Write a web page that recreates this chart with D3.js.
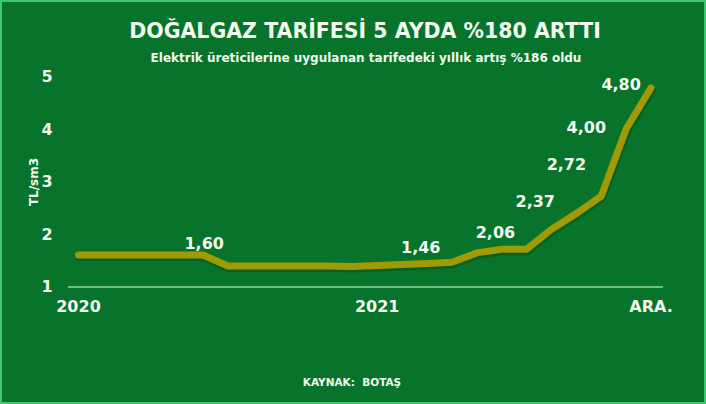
<!DOCTYPE html>
<html>
<head>
<meta charset="utf-8">
<script src="https://cdn.jsdelivr.net/npm/d3@7"></script>
<style>
html,body{margin:0;padding:0;background:#08732a;}
svg{display:block;}
text{font-family:"DejaVu Sans",Verdana,sans-serif;font-weight:bold;fill:#f2fbef;}
</style>
</head>
<body>
<svg id="chart" width="706" height="404"></svg>
<script>
// Months Jan 2020 .. Dec 2021 (index 0..23)
const months = d3.range(24);
const values = [1.60,1.60,1.60,1.60,1.60,1.60,1.39,1.39,1.39,1.39,1.39,1.38,
                1.40,1.42,1.44,1.46,1.64,1.71,1.71,2.09,2.39,2.72,4.00,4.78];
const xTickIdx = [0, 12, 23];
const xTickLabels = ["2020", "2021", "ARA."];
const yTicks = [1, 2, 3, 4, 5];
// value labels: text, month position, value position
const labelText = ["1,60", "1,46", "2,06", "2,37", "2,72", "4,00", "4,80"];
const labelIdx  = [5.05, 13.75, 16.75, 18.35, 19.6, 20.4, 21.8];
const labelVal  = [1.83, 1.75, 2.03, 2.63, 3.33, 4.03, 4.86];

const title = "DOĞALGAZ TARİFESİ 5 AYDA %180 ARTTI";
const subtitle = "Elektrik üreticilerine uygulanan tarifedeki yıllık artış %186 oldu";
const yTitle = "TL/sm3";
const source = "KAYNAK:  BOTAŞ";

const W = 706, H = 404;
const svg = d3.select("#chart");

svg.append("rect").attr("x",0).attr("y",0).attr("width",W).attr("height",H).attr("fill","#08732a");
svg.append("rect").attr("x",1).attr("y",1).attr("width",W-2).attr("height",H-2)
  .attr("fill","none").attr("stroke","#3fc574").attr("stroke-width",2);

const x = d3.scaleLinear().domain([0, 23]).range([78.5, 651]);
const y = d3.scaleLinear().domain([1, 5]).range([286.5, 76.5]);

// title
svg.append("text").attr("x",365).attr("y",38).attr("text-anchor","middle")
  .style("font-size","20.5px").text(title);
svg.append("text").attr("x",366).attr("y",62).attr("text-anchor","middle")
  .style("font-size","12px").text(subtitle);

// y ticks
svg.append("g").selectAll("text").data(yTicks).join("text")
  .attr("x",47).attr("y",d=>y(d)).attr("dy","0.36em").attr("text-anchor","middle")
  .style("font-size","16px").text(d=>d);

svg.append("text").attr("transform","translate(38,182) rotate(-90)")
  .attr("text-anchor","middle").style("font-size","12px").text(yTitle);

// baseline axis
svg.append("line").attr("x1",68).attr("x2",663).attr("y1",y(1)+0.5).attr("y2",y(1)+0.5)
  .attr("stroke","#8fd6a8").attr("stroke-width",1.5);

// x labels
svg.append("g").selectAll("text").data(xTickIdx).join("text")
  .attr("x",d=>x(d)).attr("y",312).attr("text-anchor","middle")
  .style("font-size","16px").text((d,i)=>xTickLabels[i]);

// line
const line = d3.line().x(d=>x(d)).y(d=>y(values[d]));
svg.append("path").datum(months).attr("d",line)
  .attr("transform","translate(1,2)")
  .attr("fill","none").attr("stroke","#075a20").attr("stroke-width",8)
  .attr("stroke-linejoin","round").attr("stroke-linecap","round").attr("opacity",0.8);
svg.append("path").datum(months).attr("d",line)
  .attr("fill","none").attr("stroke","#a09a05").attr("stroke-width",7)
  .attr("stroke-linejoin","miter").attr("stroke-linecap","round");

// value labels
svg.append("g").selectAll("text").data(labelText).join("text")
  .attr("x",(d,i)=>x(labelIdx[i])).attr("y",(d,i)=>y(labelVal[i])).attr("dy","0.36em")
  .attr("text-anchor","middle").style("font-size","16px").text(d=>d);

// source
svg.append("text").attr("x",352).attr("y",386).attr("text-anchor","middle")
  .style("font-size","10.5px").attr("xml:space","preserve").style("white-space","pre").text(source);
</script>
</body>
</html>
